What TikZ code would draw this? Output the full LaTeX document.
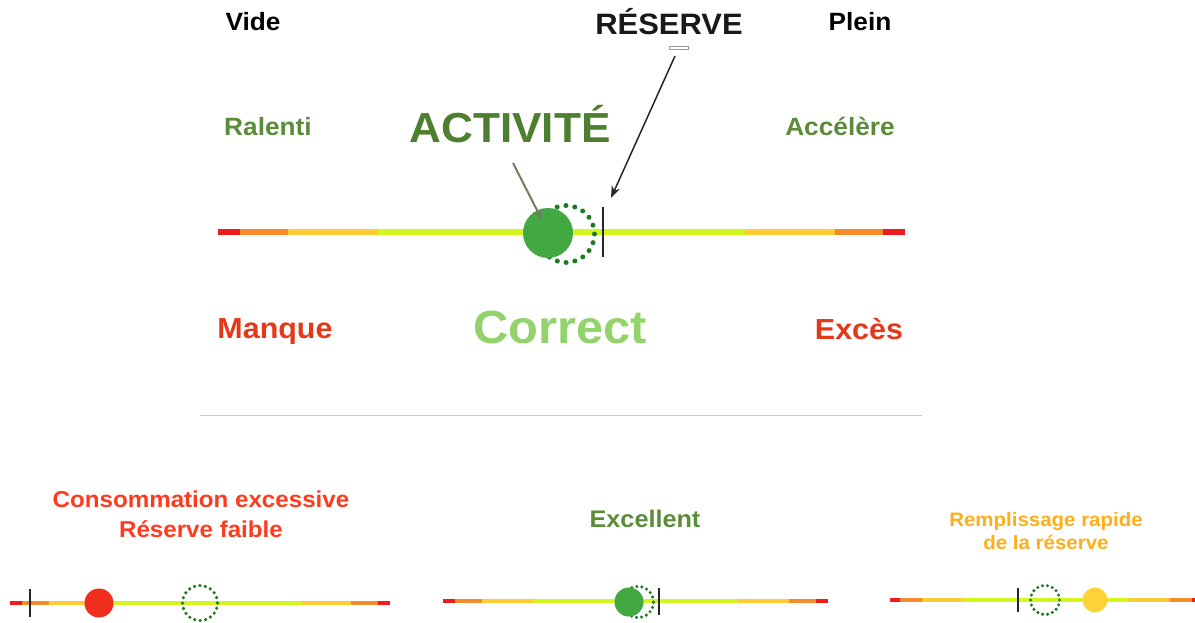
\documentclass[tikz,border=0pt]{standalone}
\usepackage{fontspec}
\newfontfamily\af[FakeStretch=1.05]{Liberation Sans}
\usetikzlibrary{arrows.meta}
\definecolor{bred}{HTML}{EE1C1C}
\definecolor{bor}{HTML}{F58A2A}
\definecolor{byl}{HTML}{FFCC33}
\definecolor{blm}{HTML}{D4F51E}
\definecolor{ballgreen}{HTML}{42A842}
\definecolor{dotgreen}{HTML}{1E7A1E}
\definecolor{txgreen}{HTML}{5A8C3A}
\definecolor{actgreen}{HTML}{4E7F2E}
\definecolor{txred}{HTML}{E4381A}
\definecolor{corgreen}{HTML}{93D36B}
\definecolor{conred}{HTML}{FF3B1F}
\definecolor{remorange}{HTML}{FFAE1A}
\definecolor{ballred}{HTML}{F02E1E}
\definecolor{ballyellow}{HTML}{FFD338}
\definecolor{arrowolive}{HTML}{6F7F5E}
\definecolor{sepgray}{HTML}{C8C8C8}
\newcommand\gaugebar[4]{%
  \pgfmathsetmacro\gL{#2-#1}%
  \begin{scope}[shift={(#1,#3)}, x=\gL pt]
    \foreach \a/\b/\c in {0/.032/bred, .032/.102/bor, .102/.233/byl, .233/.767/blm, .767/.898/byl, .898/.968/bor, .968/1/bred}
      \draw[line width=#4, \c] (\a,0) -- (\b,0);
  \end{scope}}
\tikzset{
  txt/.style={font=\af\bfseries\fontsize{#1}{#1}\selectfont, inner sep=0, anchor=base},
  ball/.style={circle, inner sep=0, minimum size=#1},
  dotring/.style={circle, inner sep=0, minimum size=#1, draw=dotgreen, line cap=round},
  ticks/.style={line width=1.6pt, draw=black!85},
}
\begin{document}
\begin{tikzpicture}[x=1pt, y=-1pt]
\useasboundingbox (0,0) rectangle (1195,623);
% top labels
\node[txt=25] (vide) at (253,31) {Vide};
\node[txt=29.5, text=black!90] (reserve) at (669,35) {RÉSERVE};
\node[txt=25] (plein) at (860,31) {Plein};
\node[draw=black!40, fill=white, line width=0.8pt, minimum width=19pt, minimum height=3pt, inner sep=0] (resrect) at (678.5,47.5) {};
\node[txt=25, text=txgreen] (ralenti) at (268,136) {Ralenti};
\node[txt=42, text=actgreen] (activite) at (510,143) {ACTIVITÉ};
\node[txt=25, text=txgreen] (accelere) at (840,136) {Accélère};
% main gauge
\gaugebar{218}{905}{232}{6pt}
\node[dotring=57pt, line width=5pt, dash pattern=on 0pt off 8.95pt] (ring) at (566,234) {};
\node[ball=50pt, fill=ballgreen] (act) at (548,233) {};
\coordinate (tickt) at (603,207);
\coordinate (tickb) at (603,257);
\draw[ticks] (tickt) -- (tickb);
\coordinate (actstart) at (513,163);
\coordinate (actend) at (542,220);
\draw[line width=2pt, arrowolive, -{Stealth[length=11pt, width=9pt, fill=arrowolive!80!black]}] (actstart) -- (actend);
\coordinate (resstart) at (675,56);
\coordinate (resend) at (611,198);
\draw[line width=1.5pt, black!85, -{Stealth[length=12pt, width=9pt]}] (resstart) -- (resend);
% bottom labels of main gauge
\node[txt=29, text=txred] (manque) at (275,338) {Manque};
\node[txt=46.5, text=corgreen] (correct) at (560,343) {Correct};
\node[txt=29, text=txred] (exces) at (859,339) {Excès};
% separator
\coordinate (sepl) at (200,415);
\coordinate (sepr) at (922,415);
\draw[sepgray, line width=1pt] (sepl) -- (sepr);
% left panel
\node[txt=23, text=conred] (conso) at (201,507) {Consommation excessive};
\node[txt=23, text=conred] (faible) at (201,537) {Réserve faible};
\gaugebar{10}{390}{603}{4.5pt}
\node[dotring=35pt, line width=3.6pt, dash pattern=on 0pt off 5.5pt] (ringl) at (200,603) {};
\node[ball=29pt, fill=ballred] (redball) at (99,603) {};
\coordinate (tlt) at (30,589);
\coordinate (tlb) at (30,617);
\draw[ticks] (tlt) -- (tlb);
% middle panel
\node[txt=24, text=txgreen] (excellent) at (645,527) {Excellent};
\gaugebar{443}{828}{601}{4.5pt}
\node[dotring=31pt, line width=3.4pt, dash pattern=on 0pt off 5.1pt] (ringm) at (638,602) {};
\node[ball=29pt, fill=ballgreen] (greenball) at (629,602) {};
\coordinate (tmt) at (659,588);
\coordinate (tmb) at (659,615);
\draw[ticks] (tmt) -- (tmb);
% right panel
\node[txt=19.5, text=remorange] (rempl) at (1046,526) {Remplissage rapide};
\node[txt=19.5, text=remorange] (delares) at (1046,549) {de la réserve};
\gaugebar{890}{1202}{600}{4.5pt}
\node[dotring=29pt, line width=3.4pt, dash pattern=on 0pt off 5.06pt] (ringr) at (1045,600) {};
\node[ball=25pt, fill=ballyellow] (yellowball) at (1095,600) {};
\coordinate (trt) at (1018,588);
\coordinate (trb) at (1018,612);
\draw[ticks] (trt) -- (trb);
\end{tikzpicture}
\end{document}
